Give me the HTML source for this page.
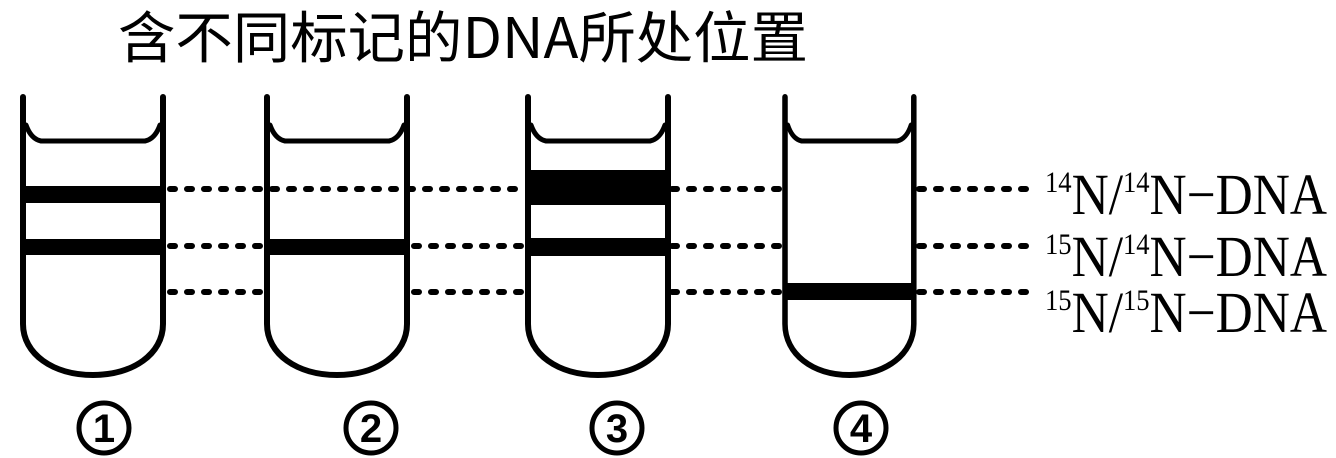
<!DOCTYPE html>
<html><head><meta charset="utf-8"><style>
html,body{margin:0;padding:0;background:#fff;width:1336px;height:458px;overflow:hidden}
</style></head><body>
<svg width="1336" height="458" viewBox="0 0 1336 458" xmlns="http://www.w3.org/2000/svg">
<text x="118" y="58" font-family="'Noto Sans CJK SC','Noto Serif CJK SC',sans-serif" font-size="56" font-weight="normal" textLength="690" lengthAdjust="spacingAndGlyphs">含不同标记的DNA所处位置</text>
<defs>
<g id="tube" fill="none" stroke="#000" stroke-width="6" stroke-linecap="round" stroke-linejoin="round">
<path d="M0,18 V245 C0,275 30,296 70,296 C110,296 140,275 140,245 V18"/>
<path d="M3,46 Q8,60 18,62 H122 Q132,60 137,46" stroke-width="5"/>
</g>
</defs>
<g stroke="#000" stroke-width="6" stroke-linecap="round" stroke-dasharray="5 12" fill="none">
<line x1="170" y1="189" x2="524" y2="189"/>
<line x1="672" y1="189" x2="781" y2="189"/>
<line x1="919" y1="189" x2="1038" y2="189"/>
<line x1="170" y1="246" x2="262" y2="246"/>
<line x1="414" y1="246" x2="524" y2="246"/>
<line x1="672" y1="246" x2="781" y2="246"/>
<line x1="919" y1="246" x2="1038" y2="246"/>
<line x1="170" y1="292" x2="262" y2="292"/>
<line x1="414" y1="292" x2="524" y2="292"/>
<line x1="672" y1="292" x2="781" y2="292"/>
<line x1="919" y1="292" x2="1038" y2="292"/>
</g>
<use href="#tube" x="23" y="79"/>
<use href="#tube" x="267" y="79"/>
<use href="#tube" x="528" y="79"/>
<g transform="translate(785,79) scale(0.92,1)"><use href="#tube"/></g>
<rect x="23" y="186" width="140" height="17"/>
<rect x="23" y="239" width="140" height="16"/>
<rect x="267" y="239" width="140" height="16"/>
<rect x="528" y="170" width="140" height="35"/>
<rect x="528" y="238" width="140" height="18"/>
<rect x="785" y="283" width="129" height="17"/>
<g font-family="'Liberation Serif',serif" font-size="58">
<text x="1045" y="214" textLength="282" lengthAdjust="spacingAndGlyphs"><tspan font-size="30" dy="-22">14</tspan><tspan dy="22">N/</tspan><tspan font-size="30" dy="-22">14</tspan><tspan dy="22">N−DNA</tspan></text>
<text x="1045" y="276" textLength="282" lengthAdjust="spacingAndGlyphs"><tspan font-size="30" dy="-22">15</tspan><tspan dy="22">N/</tspan><tspan font-size="30" dy="-22">14</tspan><tspan dy="22">N−DNA</tspan></text>
<text x="1045" y="332" textLength="282" lengthAdjust="spacingAndGlyphs"><tspan font-size="30" dy="-22">15</tspan><tspan dy="22">N/</tspan><tspan font-size="30" dy="-22">15</tspan><tspan dy="22">N−DNA</tspan></text>
</g>
<g font-family="'Liberation Sans',sans-serif" font-size="40" font-weight="bold" text-anchor="middle" fill="#000">
<circle cx="104" cy="428" r="25" fill="none" stroke="#000" stroke-width="5"/><text x="104" y="442">1</text>
<circle cx="371" cy="428" r="25" fill="none" stroke="#000" stroke-width="5"/><text x="371" y="442">2</text>
<circle cx="617" cy="428" r="25" fill="none" stroke="#000" stroke-width="5"/><text x="617" y="442">3</text>
<circle cx="861" cy="428" r="25" fill="none" stroke="#000" stroke-width="5"/><text x="861" y="442">4</text>
</g>
</svg>
</body></html>
